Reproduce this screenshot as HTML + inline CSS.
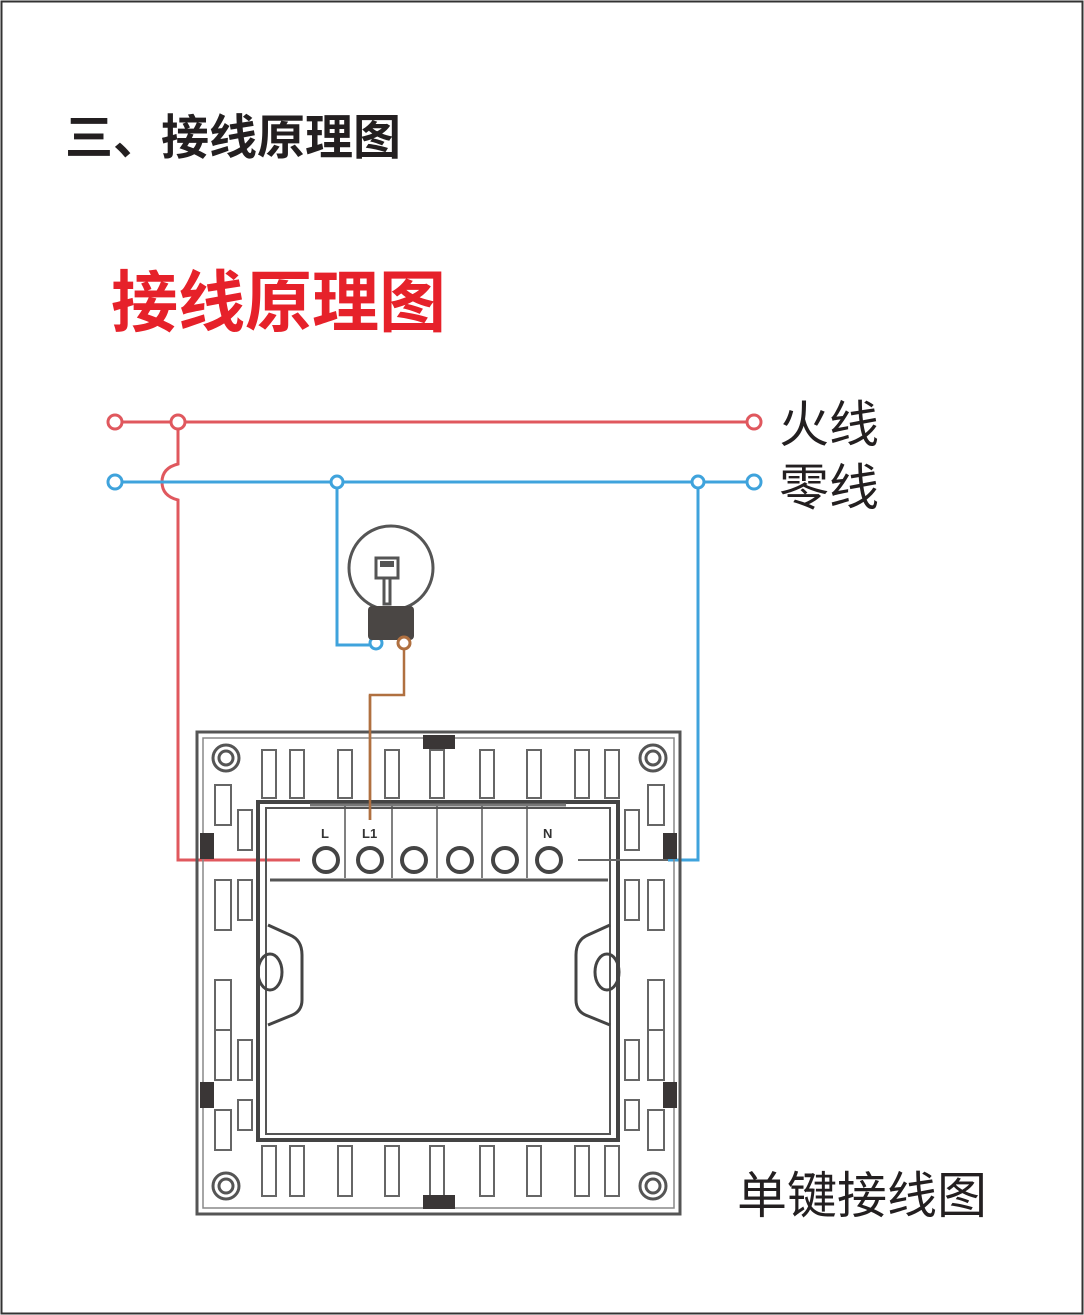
<!DOCTYPE html>
<html><head><meta charset="utf-8"><style>
html,body{margin:0;padding:0;background:#fff}
svg{display:block}
.t{font-family:"Liberation Sans","Noto Sans CJK SC",sans-serif}
</style></head><body>
<svg width="1084" height="1315" viewBox="0 0 1084 1315" xmlns="http://www.w3.org/2000/svg">
<rect x="1.5" y="1.5" width="1081" height="1312" fill="#fff" stroke="#333" stroke-width="2"/>
<text class="t" x="65" y="154" font-size="48" font-weight="bold" fill="#231f20">三、接线原理图</text>
<text class="t" x="111" y="326" font-size="67" font-weight="bold" fill="#e6212a">接线原理图</text>
<text class="t" x="779" y="442" font-size="50" fill="#231f20">火线</text>
<text class="t" x="779" y="505" font-size="50" fill="#231f20">零线</text>
<text class="t" x="737" y="1213" font-size="50" fill="#231f20">单键接线图</text>

<!-- red live -->
<g stroke="#e0585e" stroke-width="3" fill="none">
<line x1="122" y1="422" x2="747" y2="422"/>
<path d="M178 429 V464 Q162 468 162 482 Q162 496 178 500 V860 H300"/>
<circle cx="115" cy="422" r="7" fill="#fff"/>
<circle cx="178" cy="422" r="7" fill="#fff"/>
<circle cx="754" cy="422" r="7" fill="#fff"/>
</g>
<!-- blue neutral -->
<g stroke="#3fa3dc" stroke-width="3" fill="none">
<line x1="122" y1="482" x2="747" y2="482"/>
<path d="M337 489 V645 H369"/>
<path d="M698 489 V860 H668"/>
<circle cx="115" cy="482" r="7" fill="#fff"/>
<circle cx="337" cy="482" r="6" fill="#fff"/>
<circle cx="698" cy="482" r="6" fill="#fff"/>
<circle cx="754" cy="482" r="7" fill="#fff"/>
<circle cx="376" cy="643" r="6" fill="#fff"/>
</g>
<!-- bulb -->
<circle cx="391" cy="568" r="42" fill="#fff" stroke="#555" stroke-width="3"/>
<rect x="376" y="558" width="22" height="20" fill="#fff" stroke="#555" stroke-width="3"/>
<rect x="380" y="561" width="14" height="6" fill="#555"/>
<rect x="384" y="578" width="6" height="26" fill="#fff" stroke="#555" stroke-width="3"/>
<rect x="368" y="606" width="46" height="34" rx="4" fill="#4a4644"/>
<path d="M404 650 V695 H370 V820" stroke="#b07040" stroke-width="2.5" fill="none"/>
<circle cx="404" cy="643" r="6" fill="#fff" stroke="#b07040" stroke-width="3"/>

<!-- switch plate -->
<g stroke="#555" fill="none" stroke-width="3">
<rect x="197" y="732" width="483" height="482"/>
<rect x="203" y="738" width="471" height="470" stroke-width="1.5" stroke="#888"/>
<rect x="258" y="802" width="360" height="338" stroke-width="4" stroke="#444"/>
<rect x="266" y="808" width="344" height="326" stroke-width="2"/>
<line x1="270" y1="880" x2="608" y2="880" stroke-width="3"/>
<circle cx="226" cy="758" r="13"/><circle cx="226" cy="758" r="7"/>
<circle cx="653" cy="758" r="13"/><circle cx="653" cy="758" r="7"/>
<circle cx="226" cy="1186" r="13"/><circle cx="226" cy="1186" r="7"/>
<circle cx="653" cy="1186" r="13"/><circle cx="653" cy="1186" r="7"/>
</g>
<g fill="none" stroke="#666" stroke-width="2">
<!-- top slots -->
<rect x="262" y="750" width="14" height="48"/><rect x="290" y="750" width="14" height="48"/>
<rect x="338" y="750" width="14" height="48"/><rect x="385" y="750" width="14" height="48"/>
<rect x="430" y="750" width="14" height="48"/><rect x="480" y="750" width="14" height="48"/>
<rect x="527" y="750" width="14" height="48"/><rect x="575" y="750" width="14" height="48"/>
<rect x="605" y="750" width="14" height="48"/>
<!-- bottom slots -->
<rect x="262" y="1146" width="14" height="50"/><rect x="290" y="1146" width="14" height="50"/>
<rect x="338" y="1146" width="14" height="50"/><rect x="385" y="1146" width="14" height="50"/>
<rect x="430" y="1146" width="14" height="50"/><rect x="480" y="1146" width="14" height="50"/>
<rect x="527" y="1146" width="14" height="50"/><rect x="575" y="1146" width="14" height="50"/>
<rect x="605" y="1146" width="14" height="50"/>
<!-- left slots -->
<rect x="215" y="785" width="16" height="40"/><rect x="215" y="880" width="16" height="50"/>
<rect x="215" y="980" width="16" height="50"/><rect x="215" y="1030" width="16" height="50"/>
<rect x="215" y="1110" width="16" height="40"/>
<rect x="238" y="810" width="14" height="40"/><rect x="238" y="880" width="14" height="40"/>
<rect x="238" y="1040" width="14" height="40"/><rect x="238" y="1100" width="14" height="30"/>
<!-- right slots -->
<rect x="648" y="785" width="16" height="40"/><rect x="648" y="880" width="16" height="50"/>
<rect x="648" y="980" width="16" height="50"/><rect x="648" y="1030" width="16" height="50"/>
<rect x="648" y="1110" width="16" height="40"/>
<rect x="625" y="810" width="14" height="40"/><rect x="625" y="880" width="14" height="40"/>
<rect x="625" y="1040" width="14" height="40"/><rect x="625" y="1100" width="14" height="30"/>
<!-- side clips -->
<path d="M268 925 L290 935 Q302 940 302 955 V1000 Q302 1012 290 1016 L268 1025" stroke="#444" stroke-width="3"/>
<path d="M610 925 L588 935 Q576 940 576 955 V1000 Q576 1012 588 1016 L610 1025" stroke="#444" stroke-width="3"/>
<ellipse cx="270" cy="972" rx="12" ry="18" stroke="#444" stroke-width="3"/>
<ellipse cx="607" cy="972" rx="12" ry="18" stroke="#444" stroke-width="3"/>
</g>
<!-- dark tabs -->
<g fill="#3a3636">
<rect x="423" y="735" width="32" height="14"/>
<rect x="423" y="1195" width="32" height="14"/>
<rect x="200" y="833" width="14" height="26"/>
<rect x="663" y="833" width="14" height="26"/>
<rect x="200" y="1082" width="14" height="26"/>
<rect x="663" y="1082" width="14" height="26"/>
</g>
<!-- terminal bar -->
<g stroke="#555" stroke-width="3">
<line x1="310" y1="805" x2="566" y2="805" stroke="#777"/>
<line x1="345" y1="806" x2="345" y2="878" stroke-width="1.5"/>
<line x1="392" y1="806" x2="392" y2="878" stroke-width="1.5"/>
<line x1="437" y1="806" x2="437" y2="878" stroke-width="1.5"/>
<line x1="482" y1="806" x2="482" y2="878" stroke-width="1.5"/>
<line x1="527" y1="806" x2="527" y2="878" stroke-width="1.5"/>
</g>
<g fill="#fff" stroke="#444" stroke-width="4">
<circle cx="326" cy="860" r="12"/><circle cx="370" cy="860" r="12"/>
<circle cx="414" cy="860" r="12"/><circle cx="460" cy="860" r="12"/>
<circle cx="505" cy="860" r="12"/><circle cx="549" cy="860" r="12"/>
</g>
<text class="t" x="321" y="838" font-size="13" font-weight="bold" fill="#333">L</text>
<text class="t" x="362" y="838" font-size="13" font-weight="bold" fill="#333">L1</text>
<text class="t" x="543" y="838" font-size="13" font-weight="bold" fill="#333">N</text>
<line x1="578" y1="860" x2="668" y2="860" stroke="#666" stroke-width="2"/>
<line x1="370" y1="695" x2="370" y2="820" stroke="#b07040" stroke-width="2.5"/>
</svg>
</body></html>
